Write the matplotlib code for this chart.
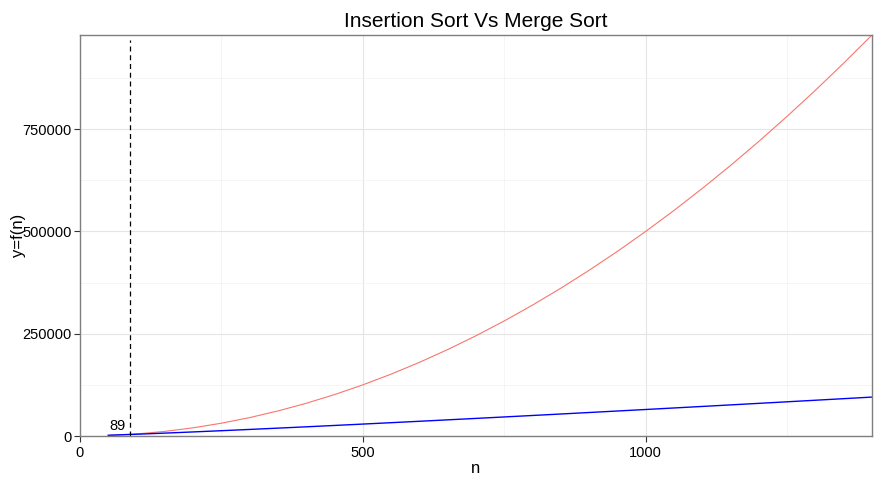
import matplotlib.pyplot as plt
from matplotlib.ticker import MultipleLocator

plt.rcParams['font.family'] = ['Liberation Sans', 'DejaVu Sans']

# values
n = [50, 100, 150, 200, 250, 300, 350, 400, 450, 500, 550, 600, 650, 700,
     750, 800, 850, 900, 950, 1000, 1050, 1100, 1150, 1200, 1250, 1300, 1350, 1400]
insertion = [1250, 5000, 11250, 20000, 31250, 45000, 61250, 80000, 101250, 125000,
             151250, 180000, 211250, 245000, 281250, 320000, 361250, 405000, 451250,
             500000, 551250, 605000, 661250, 720000, 781250, 845000, 911250, 980000]
merge = [1830, 4320, 7050, 9940, 12950, 16050, 19230, 22470, 25780, 29140,
         32540, 35990, 39480, 43000, 46560, 50150, 53760, 57410, 61080, 64780,
         68500, 72240, 76000, 79790, 83590, 87410, 91250, 95100]
cross_n = 89
cross_top = 967000

fig = plt.figure(figsize=(8.83, 4.87), dpi=100)
ax = fig.add_axes([80 / 883, 51 / 487, 792 / 883, 401 / 487])

ax.plot(n, insertion, color='#F8766D', lw=0.8)
ax.plot(n, merge, color='blue', lw=1.0)
ax.vlines(cross_n, 0, cross_top, colors='black', linestyles=(0, (4, 3)), lw=0.9)
ax.text(67, 24000, str(cross_n), ha='center', va='center', fontsize=10.5)

ax.set_xlim(0, 1400)
ax.set_ylim(0, 980000)
ax.xaxis.set_major_locator(MultipleLocator(500))
ax.xaxis.set_minor_locator(MultipleLocator(250))
ax.yaxis.set_major_locator(MultipleLocator(250000))
ax.yaxis.set_minor_locator(MultipleLocator(125000))
ax.grid(which='major', color='#E5E5E5', lw=0.8)
ax.grid(which='minor', color='#F2F2F2', lw=0.5)
ax.set_axisbelow(True)
ax.tick_params(which='major', length=4, color='#333333', labelsize=10.5, labelcolor='black')
ax.tick_params(axis='y', which='major', pad=2)
ax.tick_params(which='minor', length=0)
for s in ax.spines.values():
    s.set_color('#7F7F7F')
    s.set_linewidth(1.0)

ax.set_title('Insertion Sort Vs Merge Sort', fontsize=15, pad=6)
ax.set_xlabel('n', fontsize=12)
ax.set_ylabel('y=f(n)', fontsize=12)
ax.xaxis.set_label_coords(0.5, -0.062)
ax.yaxis.set_label_coords(-0.068, 0.5)

fig.savefig('out.png', dpi=100)
